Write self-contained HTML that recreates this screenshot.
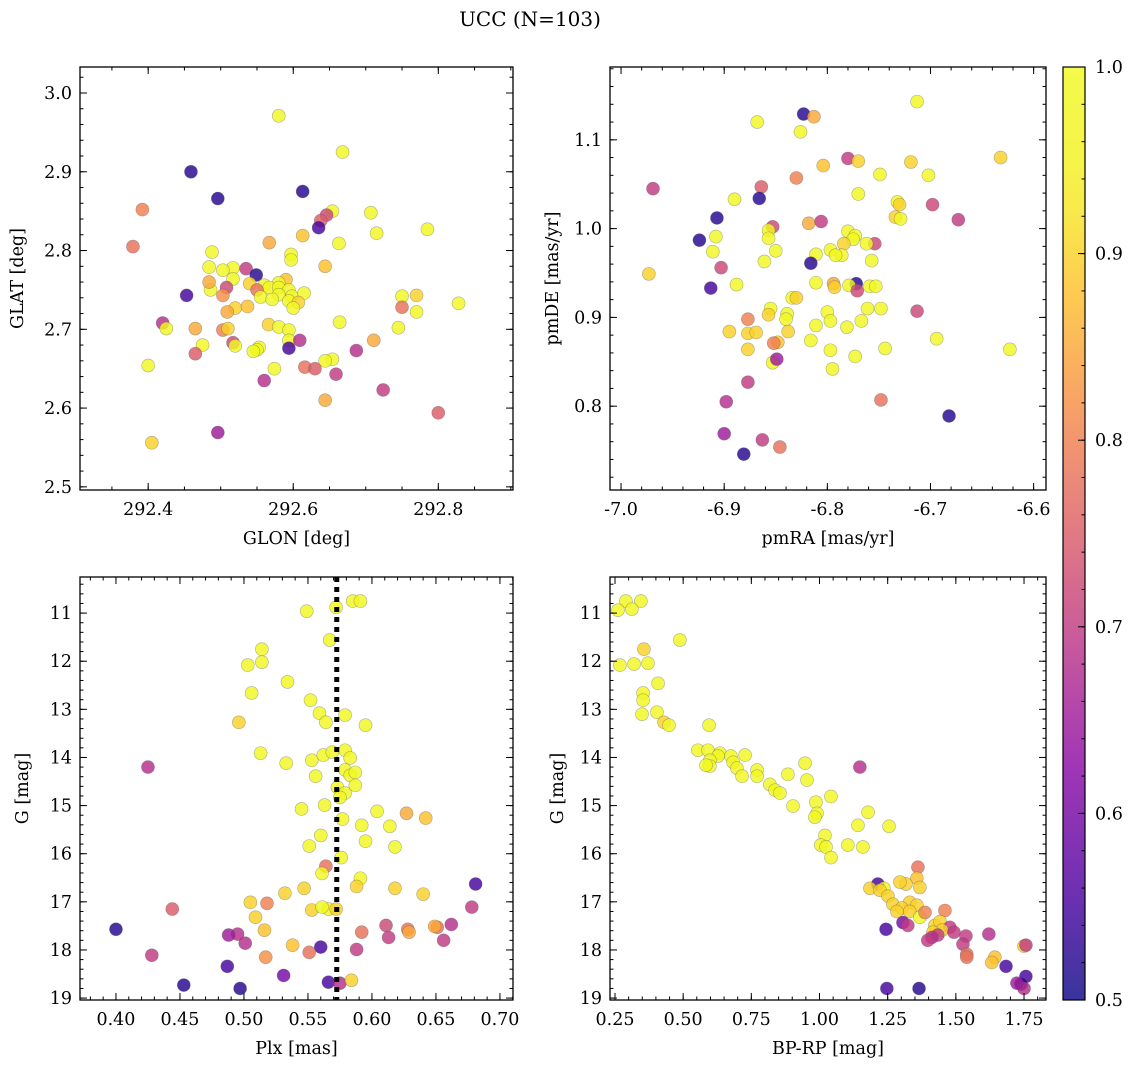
<!DOCTYPE html>
<html><head><meta charset="utf-8">
<style>
html,body{margin:0;padding:0;background:#fff;}
svg{display:block;font-family:"DejaVu Serif","Liberation Serif",serif;}
</style></head>
<body>
<svg id="chart" width="1136" height="1067" viewBox="0 0 1136 1067" xmlns="http://www.w3.org/2000/svg">
<text x="530" y="26" text-anchor="middle" font-size="20">UCC (N=103)</text>
</svg>
<script>
// ---- data ----
const glon=[292.58,292.668,292.459,292.496,292.613,292.392,292.654,292.707,292.646,292.638,292.635,292.785,292.715,292.613,292.663,292.379,292.567,292.488,292.597,292.597,292.517,292.484,292.503,292.535,292.549,292.644,292.517,292.59,292.54,292.58,292.56,292.486,292.484,292.508,292.567,292.58,292.594,292.75,292.77,292.55,292.503,292.453,292.555,292.58,292.598,292.615,292.571,292.594,292.607,292.52,292.537,292.828,292.509,292.6,292.77,292.75,292.42,292.425,292.465,292.503,292.51,292.566,292.58,292.594,292.664,292.745,292.594,292.609,292.711,292.475,292.517,292.52,292.594,292.553,292.55,292.545,292.654,292.644,292.687,292.465,292.4,292.616,292.63,292.574,292.659,292.56,292.724,292.644,292.8,292.405,292.496];
const glat=[2.971,2.925,2.90,2.866,2.875,2.852,2.85,2.848,2.845,2.838,2.829,2.827,2.822,2.819,2.809,2.805,2.81,2.798,2.795,2.788,2.778,2.779,2.775,2.777,2.769,2.78,2.764,2.763,2.758,2.759,2.756,2.75,2.76,2.753,2.753,2.753,2.75,2.742,2.743,2.75,2.743,2.743,2.741,2.744,2.742,2.746,2.738,2.736,2.734,2.727,2.729,2.733,2.722,2.727,2.722,2.728,2.708,2.701,2.701,2.699,2.701,2.706,2.703,2.699,2.709,2.702,2.686,2.686,2.686,2.680,2.683,2.679,2.676,2.677,2.674,2.672,2.662,2.660,2.673,2.669,2.654,2.652,2.650,2.650,2.643,2.635,2.623,2.610,2.594,2.556,2.569];
const cTL=[0.99,0.99,0.52,0.52,0.52,0.8,0.99,0.99,0.72,0.75,0.55,0.99,0.99,0.88,0.99,0.78,0.85,0.99,0.99,0.99,0.99,0.99,0.99,0.7,0.52,0.88,0.99,0.88,0.9,0.99,0.99,0.99,0.85,0.72,0.99,0.99,0.99,0.99,0.9,0.78,0.82,0.55,0.99,0.99,0.99,0.99,0.99,0.99,0.9,0.9,0.88,0.99,0.85,0.99,0.99,0.78,0.68,0.99,0.85,0.8,0.9,0.9,0.99,0.99,0.99,0.99,0.99,0.68,0.85,0.99,0.72,0.99,0.55,0.99,0.99,0.99,0.99,0.99,0.68,0.75,0.99,0.78,0.75,0.99,0.7,0.68,0.7,0.85,0.75,0.9,0.65];

const pmra=[-6.713,-6.823,-6.813,-6.868,-6.826,-6.632,-6.78,-6.77,-6.719,-6.749,-6.702,-6.83,-6.969,-6.864,-6.804,-6.77,-6.732,-6.89,-6.866,-6.698,-6.73,-6.734,-6.729,-6.907,-6.673,-6.818,-6.806,-6.853,-6.78,-6.857,-6.773,-6.775,-6.908,-6.857,-6.924,-6.754,-6.762,-6.784,-6.797,-6.85,-6.911,-6.811,-6.786,-6.792,-6.757,-6.816,-6.861,-6.903,-6.973,-6.794,-6.772,-6.793,-6.811,-6.779,-6.771,-6.759,-6.753,-6.888,-6.913,-6.834,-6.83,-6.713,-6.748,-6.761,-6.855,-6.839,-6.857,-6.8,-6.877,-6.895,-6.84,-6.811,-6.797,-6.767,-6.781,-6.838,-6.877,-6.869,-6.744,-6.623,-6.694,-6.816,-6.848,-6.852,-6.877,-6.797,-6.773,-6.853,-6.849,-6.795,-6.748,-6.898,-6.877,-6.682,-6.9,-6.863,-6.846,-6.881];
const pmde=[1.143,1.129,1.126,1.12,1.109,1.080,1.079,1.076,1.075,1.061,1.06,1.057,1.045,1.047,1.071,1.039,1.03,1.033,1.034,1.027,1.027,1.013,1.011,1.012,1.01,1.006,1.008,1.002,0.997,0.998,0.992,0.988,0.991,0.989,0.987,0.983,0.983,0.983,0.976,0.975,0.974,0.971,0.97,0.97,0.964,0.961,0.963,0.956,0.949,0.938,0.938,0.934,0.939,0.936,0.930,0.935,0.935,0.937,0.933,0.922,0.922,0.907,0.910,0.910,0.910,0.904,0.903,0.906,0.898,0.884,0.898,0.891,0.896,0.896,0.889,0.884,0.882,0.883,0.865,0.864,0.876,0.874,0.872,0.871,0.864,0.863,0.856,0.849,0.853,0.842,0.807,0.805,0.827,0.789,0.769,0.762,0.754,0.746];
const cTR=[0.99,0.52,0.85,0.99,0.99,0.9,0.7,0.9,0.9,0.99,0.99,0.8,0.7,0.75,0.88,0.99,0.99,0.99,0.52,0.72,0.9,0.9,0.99,0.52,0.7,0.85,0.7,0.72,0.99,0.99,0.99,0.99,0.99,0.99,0.52,0.72,0.99,0.9,0.99,0.99,0.99,0.99,0.99,0.99,0.99,0.52,0.99,0.72,0.9,0.85,0.52,0.9,0.99,0.99,0.72,0.99,0.99,0.99,0.55,0.99,0.9,0.72,0.99,0.99,0.99,0.99,0.9,0.99,0.8,0.9,0.99,0.99,0.99,0.99,0.99,0.9,0.9,0.9,0.99,0.99,0.99,0.99,0.88,0.8,0.9,0.99,0.99,0.99,0.65,0.99,0.78,0.68,0.7,0.52,0.65,0.7,0.78,0.52];

const plx=[0.549,0.572,0.585,0.591,0.567,0.514,0.503,0.514,0.506,0.534,0.552,0.559,0.579,0.496,0.564,0.595,0.513,0.533,0.553,0.562,0.425,0.569,0.579,0.583,0.556,0.579,0.583,0.587,0.573,0.579,0.575,0.587,0.545,0.563,0.604,0.577,0.627,0.592,0.614,0.560,0.551,0.595,0.618,0.642,0.576,0.564,0.591,0.561,0.588,0.618,0.640,0.547,0.532,0.505,0.518,0.553,0.566,0.572,0.561,0.509,0.444,0.681,0.678,0.662,0.651,0.649,0.628,0.629,0.611,0.613,0.656,0.592,0.516,0.495,0.488,0.40,0.501,0.538,0.560,0.588,0.551,0.517,0.428,0.487,0.531,0.566,0.575,0.584,0.453,0.497];
const gmagL=[10.96,10.88,10.75,10.75,11.56,11.75,12.08,12.02,12.66,12.43,12.81,13.08,13.12,13.27,13.27,13.33,13.91,14.12,14.06,13.95,14.2,13.89,13.85,14.01,14.39,14.26,14.37,14.31,14.62,14.74,14.83,14.58,15.07,14.99,15.12,15.28,15.16,15.41,15.43,15.62,15.84,15.74,15.86,15.26,16.08,16.26,16.51,16.41,16.68,16.72,16.84,16.72,16.82,17.01,17.03,17.17,17.15,17.15,17.11,17.32,17.15,16.63,17.11,17.47,17.53,17.51,17.57,17.63,17.49,17.74,17.8,17.63,17.59,17.67,17.69,17.57,17.86,17.9,17.94,17.99,18.05,18.15,18.11,18.34,18.53,18.67,18.69,18.63,18.73,18.8];
const cBL=[0.99,0.99,0.99,0.99,0.99,0.99,0.99,0.99,0.99,0.99,0.99,0.99,0.99,0.9,0.99,0.99,0.99,0.99,0.99,0.99,0.68,0.99,0.99,0.99,0.99,0.99,0.99,0.99,0.99,0.99,0.99,0.99,0.99,0.99,0.99,0.99,0.85,0.99,0.99,0.99,0.99,0.99,0.99,0.88,0.99,0.78,0.99,0.99,0.9,0.9,0.9,0.9,0.9,0.9,0.8,0.9,0.99,0.9,0.99,0.9,0.75,0.55,0.7,0.68,0.78,0.85,0.78,0.85,0.72,0.7,0.7,0.78,0.88,0.68,0.65,0.52,0.68,0.88,0.55,0.7,0.78,0.82,0.7,0.55,0.6,0.55,0.68,0.9,0.52,0.52];

const bprp=[0.290,0.345,0.312,0.261,0.488,0.356,0.408,0.320,0.371,0.268,0.353,0.353,0.349,0.404,0.430,0.448,0.595,0.554,0.591,0.635,0.675,0.628,0.727,0.598,0.683,0.598,0.584,0.697,0.771,0.716,0.771,0.947,0.884,1.148,0.818,0.837,0.855,0.954,0.903,1.042,0.987,0.991,1.178,0.983,1.141,1.255,1.02,1.005,1.024,1.104,1.159,1.042,1.361,1.357,1.317,1.368,1.214,1.295,1.185,1.236,1.222,1.251,1.269,1.331,1.302,1.357,1.331,1.284,1.368,1.306,1.324,1.387,1.46,1.423,1.442,1.478,1.449,1.416,1.434,1.412,1.397,1.493,1.537,1.621,1.244,1.526,1.54,1.54,1.643,1.632,1.75,1.757,1.684,1.757,1.739,1.75,1.724,1.365,1.247];
const gmagR=[10.75,10.75,10.92,10.94,11.56,11.75,12.46,12.06,12.04,12.08,12.66,12.81,13.1,13.06,13.27,13.33,13.33,13.85,13.85,13.91,13.97,13.97,13.95,14.06,14.1,14.18,14.16,14.22,14.26,14.39,14.39,14.12,14.35,14.2,14.56,14.68,14.74,14.47,15.01,14.81,14.93,15.16,15.14,15.24,15.41,15.43,15.62,15.82,15.86,15.82,15.86,16.08,16.28,16.51,16.63,16.7,16.63,16.59,16.72,16.72,16.76,16.88,17.05,17.01,17.13,17.07,17.2,17.2,17.32,17.43,17.49,17.22,17.18,17.49,17.41,17.53,17.59,17.63,17.69,17.74,17.8,17.63,17.71,17.67,17.57,17.88,18.09,18.15,18.15,18.26,17.92,17.9,18.34,18.55,18.71,18.8,18.69,18.8,18.8];
const cBR=[0.99,0.99,0.99,0.99,0.99,0.9,0.99,0.99,0.99,0.99,0.99,0.99,0.99,0.99,0.9,0.99,0.99,0.99,0.99,0.99,0.99,0.99,0.99,0.99,0.99,0.99,0.99,0.99,0.99,0.99,0.99,0.99,0.99,0.68,0.99,0.99,0.99,0.99,0.99,0.99,0.99,0.99,0.99,0.99,0.99,0.99,0.99,0.99,0.99,0.99,0.99,0.99,0.78,0.88,0.9,0.9,0.55,0.9,0.9,0.99,0.9,0.9,0.9,0.9,0.9,0.9,0.9,0.9,0.99,0.6,0.7,0.8,0.8,0.9,0.9,0.7,0.9,0.9,0.7,0.68,0.7,0.7,0.7,0.68,0.55,0.7,0.78,0.78,0.88,0.88,0.9,0.7,0.55,0.55,0.52,0.68,0.65,0.52,0.55];

const plxMean=[0.5725];
const cbarTicks=[0.5,0.6,0.7,0.8,0.9,1.0];

// ---- rendering ----
const NS="http://www.w3.org/2000/svg";
const svg=document.getElementById('chart');
function mk(tag,attrs,parent){const e=document.createElementNS(NS,tag);for(const k in attrs)e.setAttribute(k,attrs[k]);(parent||svg).appendChild(e);return e;}
const stops=[[0,[13,8,135]],[0.125,[84,2,163]],[0.25,[139,10,165]],[0.375,[185,50,137]],[0.5,[219,92,104]],[0.625,[244,136,73]],[0.75,[254,188,43]],[0.875,[244,240,33]],[1,[240,249,33]]];
function plasma(t){t=Math.max(0,Math.min(1,t));for(let i=1;i<stops.length;i++){if(t<=stops[i][0]){const a=stops[i-1],b=stops[i];const f=(t-a[0])/(b[0]-a[0]);const c=a[1].map((v,j)=>Math.round(v+(b[1][j]-v)*f));return `rgb(${c[0]},${c[1]},${c[2]})`;}}return 'rgb(240,249,33)';}
function cmap(v){return plasma((v-0.5)/0.5);}
function fmt(v,d){return v.toFixed(d);}
const FS=17.5;

function panel(o){
  const g=mk('g',{});
  
  
  const sx=v=>o.x0+(v-o.xmin)/(o.xmax-o.xmin)*(o.x1-o.x0);
  const sy=o.yinv? v=>o.y0+(v-o.ymin)/(o.ymax-o.ymin)*(o.y1-o.y0) : v=>o.y1-(v-o.ymin)/(o.ymax-o.ymin)*(o.y1-o.y0);
  const clip=mk('clipPath',{id:'clip-'+o.name},g);
  mk('rect',{x:o.x0,y:o.y0,width:o.x1-o.x0,height:o.y1-o.y0},clip);
  const pts=mk('g',{'clip-path':`url(#clip-${o.name})`},g);
  
  
  let vl=null;
  if(o.vline){const X=sx(o.vline[0]);vl=document.createElementNS(NS,'line');
    [['x1',X],['x2',X],['y1',o.y0],['y2',o.y1],['stroke','#000'],['stroke-width',5],['stroke-dasharray','5,5']].forEach(a=>vl.setAttribute(a[0],a[1]));
    
    }
  for(let i=0;i<o.xs.length;i++){
    const c=mk('circle',{cx:sx(o.xs[i]),cy:sy(o.ys[i]),r:6.5,fill:cmap(o.cs[i]),'fill-opacity':0.82,stroke:'#555','stroke-opacity':0.45,'stroke-width':0.6},pts);
    
    
  }
  if(vl) pts.appendChild(vl);
  mk('rect',{x:o.x0,y:o.y0,width:o.x1-o.x0,height:o.y1-o.y0,fill:'none',stroke:'#000','stroke-width':1.3},g);
  const tk=mk('g',{stroke:'#000','stroke-width':1},g);
  for(let v=o.xminor0;v<=o.xmax+1e-9;v+=o.xminor){if(v<o.xmin)continue;const X=sx(v);mk('line',{x1:X,x2:X,y1:o.y1,y2:o.y1-3.5},tk);mk('line',{x1:X,x2:X,y1:o.y0,y2:o.y0+3.5},tk);}
  for(let v=o.yminor0;v<=o.ymax+1e-9;v+=o.yminor){if(v<o.ymin)continue;const Y=sy(v);mk('line',{x1:o.x0,x2:o.x0+3.5,y1:Y,y2:Y},tk);mk('line',{x1:o.x1,x2:o.x1-3.5,y1:Y,y2:Y},tk);}
  o.xticks.forEach(v=>{const X=sx(v);mk('line',{x1:X,x2:X,y1:o.y1,y2:o.y1-7},tk);mk('line',{x1:X,x2:X,y1:o.y0,y2:o.y0+7},tk);
    const t=mk('text',{x:X,y:o.y1+25,'text-anchor':'middle','font-size':FS},g);t.textContent=fmt(v,o.xdec);
    });
  o.yticks.forEach(v=>{const Y=sy(v);mk('line',{x1:o.x0,x2:o.x0+7,y1:Y,y2:Y},tk);mk('line',{x1:o.x1,x2:o.x1-7,y1:Y,y2:Y},tk);
    const t=mk('text',{x:o.x0-8,y:Y+6,'text-anchor':'end','font-size':FS},g);t.textContent=fmt(v,o.ydec);
    });
  const xl=mk('text',{x:(o.x0+o.x1)/2,y:o.y1+54,'text-anchor':'middle','font-size':FS},g);xl.textContent=o.xlabel;
  
  const yx=o.ylabx,yy=(o.y0+o.y1)/2;
  const yl=mk('text',{x:yx,y:yy,'text-anchor':'middle','font-size':FS,transform:`rotate(-90 ${yx} ${yy})`},g);yl.textContent=o.ylabel;
  
}

panel({name:'glon-glat-panel',x0:80,x1:513,y0:67,y1:490,xmin:292.306,xmax:292.903,ymin:2.496,ymax:3.033,
  xs:glon,ys:glat,cs:cTL,xticks:[292.4,292.6,292.8],xdec:1,xminor0:292.35,xminor:0.05,
  yticks:[2.5,2.6,2.7,2.8,2.9,3.0],ydec:1,yminor0:2.5,yminor:0.02,xlabel:'GLON [deg]',ylabel:'GLAT [deg]',ylabx:23});
panel({name:'pm-panel',x0:610,x1:1046,y0:67,y1:490,xmin:-7.0107,xmax:-6.588,ymin:0.7056,ymax:1.182,
  xs:pmra,ys:pmde,cs:cTR,xticks:[-7.0,-6.9,-6.8,-6.7,-6.6],xdec:1,xminor0:-7.0,xminor:0.02,
  yticks:[0.8,0.9,1.0,1.1],ydec:1,yminor0:0.72,yminor:0.02,xlabel:'pmRA [mas/yr]',ylabel:'pmDE [mas/yr]',ylabx:558});
panel({name:'plx-g-panel',x0:80,x1:513,y0:577,y1:1000,xmin:0.3719,xmax:0.7102,ymin:10.25,ymax:19.04,yinv:true,
  xs:plx,ys:gmagL,cs:cBL,xticks:[0.40,0.45,0.50,0.55,0.60,0.65,0.70],xdec:2,xminor0:0.38,xminor:0.01,
  yticks:[11,12,13,14,15,16,17,18,19],ydec:0,yminor0:10.4,yminor:0.2,xlabel:'Plx [mas]',ylabel:'G [mag]',ylabx:28,vline:plxMean});
panel({name:'cmd-panel',x0:610,x1:1046,y0:577,y1:1000,xmin:0.2317,xmax:1.8306,ymin:10.25,ymax:19.04,yinv:true,
  xs:bprp,ys:gmagR,cs:cBR,xticks:[0.25,0.5,0.75,1.0,1.25,1.5,1.75],xdec:2,xminor0:0.25,xminor:0.05,
  yticks:[11,12,13,14,15,16,17,18,19],ydec:0,yminor0:10.4,yminor:0.2,xlabel:'BP-RP [mag]',ylabel:'G [mag]',ylabx:563});

// colorbar
const cb=mk('g',{});


const defs=mk('defs',{},cb);
const lg=mk('linearGradient',{id:'cbgrad',x1:0,y1:1,x2:0,y2:0},defs);
for(let i=0;i<=20;i++){mk('stop',{offset:i/20,'stop-color':plasma(i/20),'stop-opacity':0.82},lg);}
const cbx0=1063,cbx1=1085,cby0=67,cby1=1000;
mk('rect',{x:cbx0,y:cby0,width:cbx1-cbx0,height:cby1-cby0,fill:'url(#cbgrad)',stroke:'#000','stroke-width':1.2},cb);
const cy=v=>cby1-(v-0.5)/0.5*(cby1-cby0);
for(let v=0.5;v<=1.0001;v+=0.02){mk('line',{x1:cbx1,x2:cbx1-3.5,y1:cy(v),y2:cy(v),stroke:'#000'},cb);}
cbarTicks.forEach(v=>{mk('line',{x1:cbx1,x2:cbx1-7,y1:cy(v),y2:cy(v),stroke:'#000'},cb);
  const t=mk('text',{x:cbx1+10,y:cy(v)+6,'font-size':FS},cb);t.textContent=v.toFixed(1);
  });
</script>
</body></html>
